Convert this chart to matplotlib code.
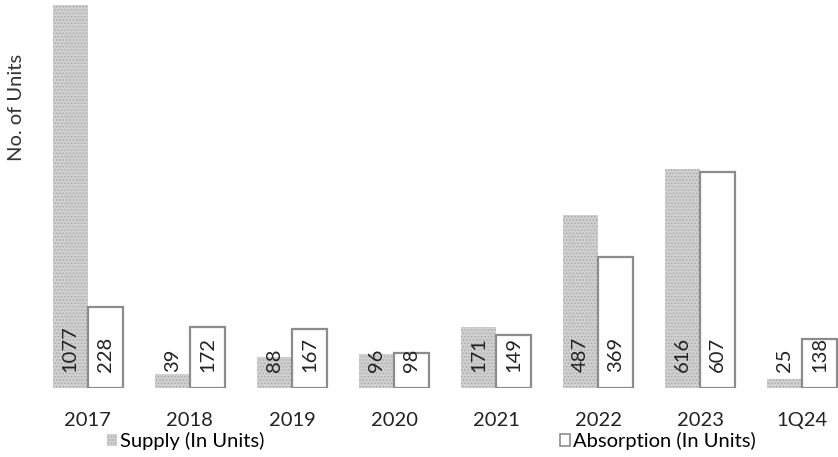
import numpy as np
import matplotlib
matplotlib.use("Agg")
import matplotlib.pyplot as plt
from matplotlib.patches import Patch

# dados
periodos = ["2017", "2018", "2019", "2020", "2021", "2022", "2023", "1Q24"]
oferta = [1077, 39, 88, 96, 171, 487, 616, 25]
absorcao = [228, 172, 167, 98, 149, 369, 607, 138]

plt.rcParams['font.family'] = ['Lato', 'DejaVu Sans']
plt.rcParams['hatch.linewidth'] = 0.6

fig = plt.figure(figsize=(8.38, 4.57), dpi=100)
ax = fig.add_axes([45 / 838, 69 / 457, 1 - 45 / 838, 1 - 69 / 457])

x = np.arange(len(periodos))
w = 0.345
fs = 14.5

cor_oferta = '#cfcfcf'
b1 = ax.bar(x - w / 2, oferta, w, color=cor_oferta, edgecolor='#a8a8a8',
            hatch='.....', linewidth=0)
b2 = ax.bar(x + w / 2, absorcao, w, color='white', edgecolor='#8c8c8c',
            linewidth=1.6)

# rótulos rotacionados na base das barras
for xi, v in zip(x - w / 2, oferta):
    ax.text(xi, 45, str(v), rotation=90, ha='center', va='bottom',
            fontsize=fs, color='#222222')
for xi, v in zip(x + w / 2, absorcao):
    ax.text(xi, 45, str(v), rotation=90, ha='center', va='bottom',
            fontsize=fs, color='#222222')

ax.set_xlim(-0.42, 7.35)
ax.set_ylim(0, 1090)
ax.set_xticks(x)
ax.set_xticklabels(periodos, fontsize=fs, color='#222222')
ax.tick_params(axis='x', length=0, pad=17)
ax.set_yticks([])
for s in ax.spines.values():
    s.set_visible(False)

fig.text(16 / 838, 1 - 107 / 457, "No. of Units", rotation=90,
         ha='center', va='center', fontsize=fs, color='#333333')

h1 = Patch(facecolor=cor_oferta, edgecolor='#a8a8a8', hatch='.....', linewidth=0)
h2 = Patch(facecolor='white', edgecolor='#8c8c8c', linewidth=1.2)
leg_kw = dict(frameon=False, fontsize=fs, handlelength=0.5, handleheight=0.5,
              handletextpad=0.15, borderpad=0, loc='center left')
fig.legend([h1], ["Supply (In Units)"], bbox_to_anchor=(97 / 838, 1 - 441 / 457), **leg_kw)
fig.legend([h2], ["Absorption (In Units)"], bbox_to_anchor=(550 / 838, 1 - 441 / 457), **leg_kw)

fig.savefig("out.png", dpi=100)
